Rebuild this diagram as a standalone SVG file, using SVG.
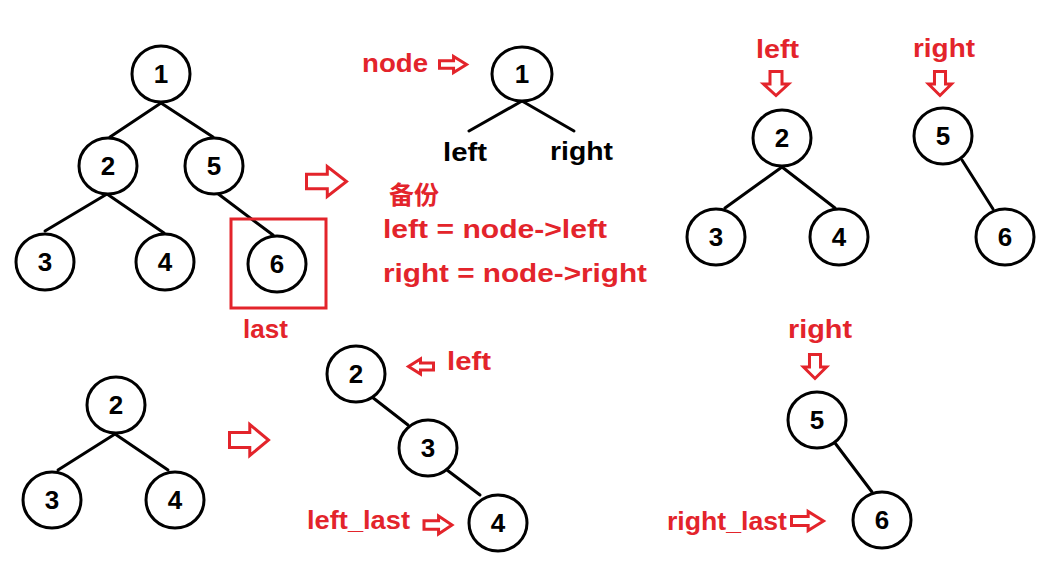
<svg xmlns="http://www.w3.org/2000/svg" xmlns:xlink="http://www.w3.org/1999/xlink" width="1048" height="563" viewBox="0 0 1048 563">
<style>
.n ellipse{fill:#fff;stroke:#000;stroke-width:3}
.n text{font-family:"Liberation Sans","Noto Sans",sans-serif;font-weight:bold;font-size:26px;fill:#000;text-anchor:middle}
.e line{stroke:#000;stroke-width:3;stroke-linecap:round}
.lbl{font-family:"Liberation Sans","Noto Sans CJK SC",sans-serif;font-weight:bold;font-size:25px;fill:#e3242b}
.blk{font-family:"Liberation Sans","Noto Sans",sans-serif;font-weight:bold;font-size:26px;fill:#000}
.ar{fill:#fff;stroke:#e3242b;stroke-width:3;stroke-linejoin:miter}
</style>
<defs>
<path id="arr" d="M0,-0.24 H0.52 V-0.5 L1,0 L0.52,0.5 V0.24 H0 Z" vector-effect="non-scaling-stroke"/>
</defs>
<rect width="1048" height="563" fill="#fff"/>

<g id="connectors" class="e">
  <line x1="161" y1="103" x2="110" y2="137"/>
  <line x1="161" y1="103" x2="213" y2="137"/>
  <line x1="107" y1="194" x2="45" y2="231"/>
  <line x1="107" y1="194" x2="164" y2="233"/>
  <line x1="217" y1="193" x2="273" y2="235"/>
  <line x1="522" y1="101" x2="469" y2="131"/>
  <line x1="522" y1="101" x2="574" y2="131"/>
  <line x1="782" y1="167" x2="725" y2="208"/>
  <line x1="782" y1="167" x2="835" y2="208"/>
  <line x1="962" y1="160" x2="993" y2="209"/>
  <line x1="115" y1="434" x2="58" y2="470"/>
  <line x1="115" y1="434" x2="168" y2="470"/>
  <line x1="372" y1="397" x2="408" y2="425"/>
  <line x1="447" y1="470" x2="480" y2="495"/>
  <line x1="835" y1="443" x2="872" y2="492"/>
</g>

<g id="treeA-1" class="n"><ellipse cx="161" cy="74" rx="29" ry="28"/><text x="161" y="83">1</text></g>
<g id="treeA-2" class="n"><ellipse cx="108" cy="166" rx="29" ry="28"/><text x="108" y="175">2</text></g>
<g id="treeA-5" class="n"><ellipse cx="214" cy="166" rx="29" ry="28"/><text x="214" y="175">5</text></g>
<g id="treeA-3" class="n"><ellipse cx="45" cy="262" rx="29" ry="28"/><text x="45" y="271">3</text></g>
<g id="treeA-4" class="n"><ellipse cx="165" cy="262" rx="29" ry="28"/><text x="165" y="271">4</text></g>
<g id="treeA-6" class="n"><ellipse cx="277" cy="264" rx="29" ry="28"/><text x="277" y="273">6</text></g>

<g id="lastBox"><rect x="231" y="219" width="95" height="89" fill="none" stroke="#e3242b" stroke-width="3"/>
<text class="lbl" x="243" y="338" textLength="45" lengthAdjust="spacingAndGlyphs">last</text></g>

<g id="arrow1" class="ar"><use xlink:href="#arr" transform="translate(306.5,181.5) scale(40,30)"/></g>

<g id="treeB-1" class="n"><ellipse cx="522" cy="74" rx="30" ry="27"/><text x="522" y="83">1</text></g>
<g id="nodeLabel"><text class="lbl" x="362" y="72" textLength="66" lengthAdjust="spacingAndGlyphs">node</text>
<g class="ar"><use xlink:href="#arr" transform="translate(439.5,64.5) scale(27,16)"/></g></g>
<text class="blk" x="443" y="161" textLength="44" lengthAdjust="spacingAndGlyphs">left</text>
<text class="blk" x="550" y="160" textLength="63" lengthAdjust="spacingAndGlyphs">right</text>

<g id="backup">
<text class="lbl" x="389" y="204" font-size="24" textLength="50" lengthAdjust="spacingAndGlyphs">备份</text>
<text class="lbl" x="383" y="238" textLength="224" lengthAdjust="spacingAndGlyphs">left = node-&gt;left</text>
<text class="lbl" x="383" y="282" textLength="264" lengthAdjust="spacingAndGlyphs">right = node-&gt;right</text>
</g>

<g id="leftPtr"><text class="lbl" x="756" y="58" textLength="43" lengthAdjust="spacingAndGlyphs">left</text>
<g class="ar"><use xlink:href="#arr" transform="translate(776,71.5) rotate(90) scale(24,25)"/></g></g>
<g id="rightPtr"><text class="lbl" x="913" y="57" textLength="62" lengthAdjust="spacingAndGlyphs">right</text>
<g class="ar"><use xlink:href="#arr" transform="translate(940,71.5) rotate(90) scale(24,23)"/></g></g>

<g id="treeC-2" class="n"><ellipse cx="782" cy="138" rx="29" ry="28"/><text x="782" y="147">2</text></g>
<g id="treeC-3" class="n"><ellipse cx="716" cy="237" rx="29" ry="28"/><text x="716" y="246">3</text></g>
<g id="treeC-4" class="n"><ellipse cx="839" cy="237" rx="29" ry="28"/><text x="839" y="246">4</text></g>
<g id="treeD-5" class="n"><ellipse cx="943" cy="136" rx="29" ry="28"/><text x="943" y="145">5</text></g>
<g id="treeD-6" class="n"><ellipse cx="1005" cy="237" rx="29" ry="28"/><text x="1005" y="246">6</text></g>

<g id="treeE-2" class="n"><ellipse cx="116" cy="405" rx="29" ry="28"/><text x="116" y="414">2</text></g>
<g id="treeE-3" class="n"><ellipse cx="52" cy="500" rx="29" ry="28"/><text x="52" y="509">3</text></g>
<g id="treeE-4" class="n"><ellipse cx="175" cy="500" rx="29" ry="28"/><text x="175" y="509">4</text></g>

<g id="arrow2" class="ar"><use xlink:href="#arr" transform="translate(229.5,440) scale(39,31)"/></g>

<g id="treeF-2" class="n"><ellipse cx="356" cy="374" rx="29" ry="28"/><text x="356" y="383">2</text></g>
<g id="treeF-3" class="n"><ellipse cx="428" cy="448" rx="29" ry="28"/><text x="428" y="457">3</text></g>
<g id="treeF-4" class="n"><ellipse cx="498" cy="523" rx="29" ry="28"/><text x="498" y="532">4</text></g>
<g id="leftPtr2"><g class="ar"><use xlink:href="#arr" transform="translate(433.5,366.5) scale(-25,15)"/></g>
<text class="lbl" x="447" y="370" textLength="44" lengthAdjust="spacingAndGlyphs">left</text></g>
<g id="leftLast"><text class="lbl" x="307" y="529" textLength="103" lengthAdjust="spacingAndGlyphs">left_last</text>
<g class="ar"><use xlink:href="#arr" transform="translate(424,525) scale(28,18)"/></g></g>

<g id="rightPtr2"><text class="lbl" x="788" y="338" textLength="64" lengthAdjust="spacingAndGlyphs">right</text>
<g class="ar"><use xlink:href="#arr" transform="translate(815,354.5) rotate(90) scale(24,23)"/></g></g>
<g id="treeG-5" class="n"><ellipse cx="817" cy="420" rx="29" ry="28"/><text x="817" y="429">5</text></g>
<g id="treeG-6" class="n"><ellipse cx="882" cy="520" rx="29" ry="28"/><text x="882" y="529">6</text></g>
<g id="rightLast"><text class="lbl" x="667" y="530" textLength="120" lengthAdjust="spacingAndGlyphs">right_last</text>
<g class="ar"><use xlink:href="#arr" transform="translate(791.5,521) scale(32,19)"/></g></g>
</svg>
